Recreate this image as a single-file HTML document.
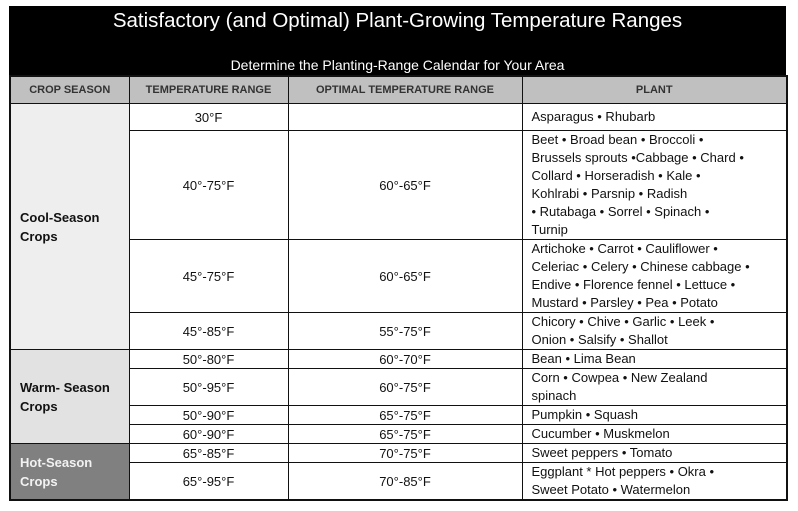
<!DOCTYPE html>
<html><head><meta charset="utf-8"><style>
body{margin:0;background:#fff;width:798px;height:511px;overflow:hidden;font-family:"Liberation Sans",Arial,sans-serif}
#band{position:absolute;left:9px;top:6px;width:777px;height:70px;background:#000;color:#fff;text-align:center}
#title{position:absolute;left:0;right:0;top:3px;font-size:20.5px}
#sub{position:absolute;left:0;right:0;top:51px;font-size:14px}
table{position:absolute;left:9px;top:75px;border-collapse:collapse;table-layout:fixed;width:777px;font-size:13px;color:#111}
td,th{border:1.5px solid #111;padding:0;overflow:hidden}
th{background:#c0c0c0;font-size:11px;font-weight:bold;color:#333;height:26px}
td.c{text-align:center}
td.p{padding-left:9px;line-height:18px;vertical-align:top;padding-top:0}
td.s{font-weight:bold;padding-left:9px;line-height:19px}
table{border:2px solid #111}
</style></head><body>
<div id="band">
<div id="title">Satisfactory (and Optimal) Plant-Growing Temperature Ranges</div>
<div id="sub">Determine the Planting-Range Calendar for Your Area</div>
</div>
<table>
<colgroup><col style="width:119px"><col style="width:159px"><col style="width:234px"><col style="width:265px"></colgroup>
<tr><th>CROP SEASON</th><th>TEMPERATURE RANGE</th><th>OPTIMAL TEMPERATURE RANGE</th><th>PLANT</th></tr>
<tr style="height:27px"><td class="s" rowspan="4" style="background:#eeeeee">Cool-Season<br>Crops</td><td class="c">30°F</td><td class="c"></td><td class="p" style="padding-top:4px">Asparagus • Rhubarb</td></tr>
<tr style="height:109px"><td class="c">40°-75°F</td><td class="c">60°-65°F</td><td class="p">Beet • Broad bean • Broccoli •<br>Brussels sprouts •Cabbage • Chard •<br>Collard • Horseradish • Kale •<br>Kohlrabi • Parsnip • Radish<br>• Rutabaga • Sorrel • Spinach •<br>Turnip</td></tr>
<tr style="height:72px"><td class="c">45°-75°F</td><td class="c">60°-65°F</td><td class="p">Artichoke • Carrot • Cauliflower •<br>Celeriac • Celery • Chinese cabbage •<br>Endive • Florence fennel • Lettuce •<br>Mustard • Parsley • Pea • Potato</td></tr>
<tr style="height:36px"><td class="c">45°-85°F</td><td class="c">55°-75°F</td><td class="p">Chicory • Chive • Garlic • Leek •<br>Onion • Salsify • Shallot</td></tr>
<tr style="height:19px"><td class="s" rowspan="4" style="background:#e2e2e2">Warm- Season<br>Crops</td><td class="c">50°-80°F</td><td class="c">60°-70°F</td><td class="p">Bean • Lima Bean</td></tr>
<tr style="height:36px"><td class="c">50°-95°F</td><td class="c">60°-75°F</td><td class="p">Corn • Cowpea • New Zealand<br>spinach</td></tr>
<tr style="height:19px"><td class="c">50°-90°F</td><td class="c">65°-75°F</td><td class="p">Pumpkin • Squash</td></tr>
<tr style="height:18px"><td class="c">60°-90°F</td><td class="c">65°-75°F</td><td class="p">Cucumber • Muskmelon</td></tr>
<tr style="height:19px"><td class="s" rowspan="2" style="background:#808080;color:#f2f2f2">Hot-Season<br>Crops</td><td class="c">65°-85°F</td><td class="c">70°-75°F</td><td class="p">Sweet peppers • Tomato</td></tr>
<tr style="height:36px"><td class="c">65°-95°F</td><td class="c">70°-85°F</td><td class="p">Eggplant * Hot peppers • Okra •<br>Sweet Potato • Watermelon</td></tr>
</table>
</body></html>
